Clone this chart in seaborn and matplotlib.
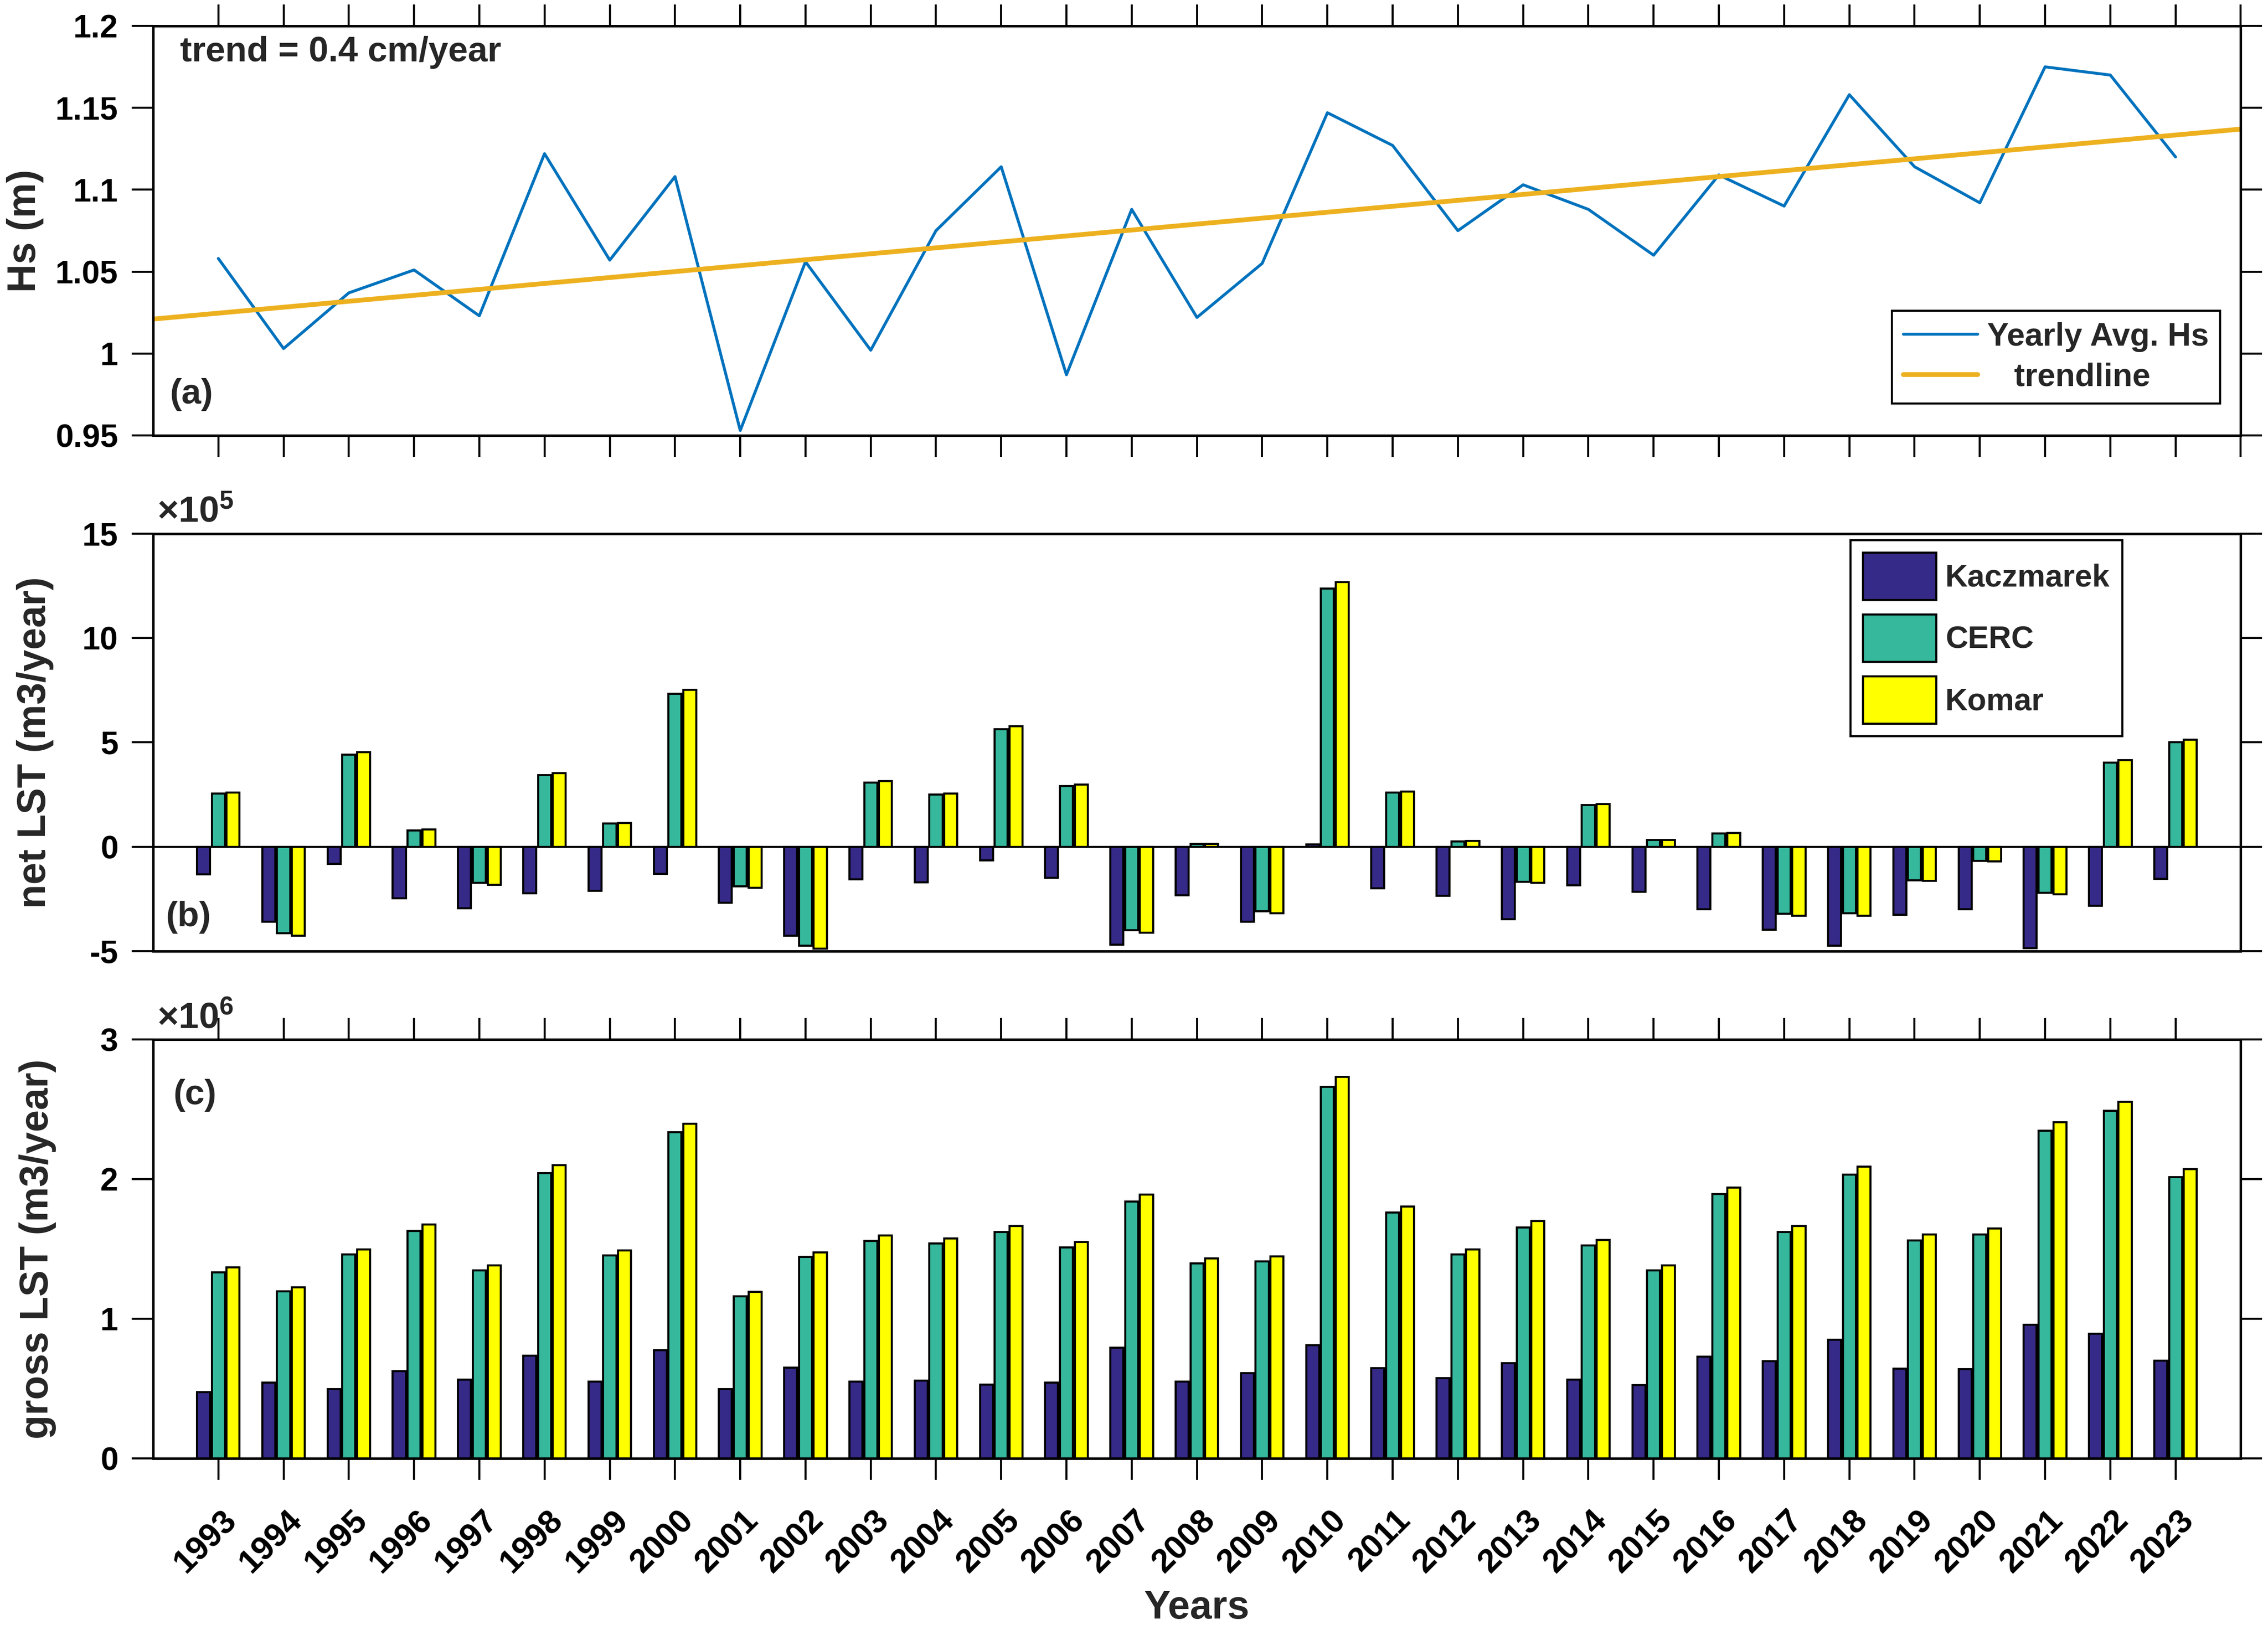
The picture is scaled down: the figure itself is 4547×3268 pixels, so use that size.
import numpy as np
import pandas as pd
import matplotlib
matplotlib.use("Agg")
import matplotlib.pyplot as plt
import matplotlib.transforms as mtransforms
import seaborn as sns

# ---- data ----
years = list(range(1993, 2024))
hs_yearly = [1.058, 1.003, 1.037, 1.051, 1.023, 1.122, 1.057, 1.108, 0.953, 1.056,
             1.002, 1.075, 1.114, 0.987, 1.088, 1.022, 1.055, 1.147, 1.127, 1.075,
             1.103, 1.088, 1.060, 1.109, 1.090, 1.158, 1.114, 1.092, 1.175, 1.170, 1.120]
trend_years = [1992, 2024]
trend_hs = [1.021, 1.137]

methods = ["Kaczmarek", "CERC", "Komar"]
# net LST, x10^5 m3/year
net_kaczmarek = [-1.33, -3.60, -0.82, -2.48, -2.95, -2.22, -2.10, -1.29, -2.68, -4.27, -1.55,
                 -1.71, -0.66, -1.48, -4.70, -2.33, -3.59, 0.11, -2.00, -2.36, -3.47, -1.85,
                 -2.16, -3.00, -3.97, -4.75, -3.27, -3.00, -4.86, -2.82, -1.53]
net_cerc = [2.55, -4.15, 4.41, 0.79, -1.74, 3.44, 1.11, 7.33, -1.89, -4.75, 3.08,
            2.49, 5.62, 2.90, -4.00, 0.14, -3.10, 12.36, 2.59, 0.26, -1.68, 1.99,
            0.32, 0.63, -3.21, -3.19, -1.60, -0.67, -2.21, 4.03, 5.00]
net_komar = [2.60, -4.27, 4.52, 0.82, -1.82, 3.53, 1.14, 7.53, -1.96, -4.89, 3.15,
             2.56, 5.77, 2.97, -4.12, 0.14, -3.19, 12.67, 2.64, 0.29, -1.74, 2.04,
             0.32, 0.67, -3.30, -3.30, -1.64, -0.71, -2.29, 4.14, 5.12]
# gross LST, x10^6 m3/year
gross_kaczmarek = [0.476, 0.544, 0.495, 0.626, 0.565, 0.735, 0.548, 0.774, 0.495, 0.651, 0.550,
                   0.556, 0.530, 0.542, 0.791, 0.548, 0.612, 0.811, 0.647, 0.573, 0.682, 0.563,
                   0.526, 0.729, 0.696, 0.850, 0.641, 0.639, 0.957, 0.893, 0.700]
gross_cerc = [1.333, 1.195, 1.460, 1.630, 1.347, 2.041, 1.452, 2.337, 1.160, 1.441, 1.556,
              1.538, 1.620, 1.511, 1.838, 1.396, 1.411, 2.659, 1.762, 1.460, 1.655, 1.524,
              1.347, 1.891, 1.622, 2.033, 1.561, 1.604, 2.347, 2.489, 2.014]
gross_komar = [1.368, 1.226, 1.497, 1.674, 1.382, 2.099, 1.489, 2.396, 1.191, 1.476, 1.595,
               1.575, 1.663, 1.550, 1.889, 1.433, 1.446, 2.731, 1.805, 1.497, 1.700, 1.563,
               1.382, 1.938, 1.665, 2.088, 1.602, 1.645, 2.407, 2.554, 2.070]

hs_ticks = [0.95, 1, 1.05, 1.1, 1.15, 1.2]
hs_ticklabels = ["0.95", "1", "1.05", "1.1", "1.15", "1.2"]
net_ticks = [-5, 0, 5, 10, 15]
gross_ticks = [0, 1, 2, 3]

bar_colors = ["#352A87", "#36B89D", "#FFFF00"]

sns.set_style("ticks")
plt.rcParams["font.family"] = ["Liberation Sans", "DejaVu Sans"]
plt.rcParams["font.weight"] = "bold"
plt.rcParams["axes.labelweight"] = "bold"
plt.rcParams["axes.unicode_minus"] = False
plt.rcParams["axes.edgecolor"] = "black"
plt.rcParams["xtick.color"] = "black"
plt.rcParams["ytick.color"] = "black"
plt.rcParams["mathtext.fontset"] = "custom"
plt.rcParams["mathtext.rm"] = "Liberation Sans"
plt.rcParams["mathtext.bf"] = "Liberation Sans:bold"

fig = plt.figure(figsize=(4547 / 300, 3268 / 300), dpi=300)
L, R = 0.0675, 0.988
ax_a = fig.add_axes([L, 0.7329, R - L, 0.9841 - 0.7329])
ax_b = fig.add_axes([L, 0.4165, R - L, 0.6726 - 0.4165])
ax_c = fig.add_axes([L, 0.1053, R - L, 0.3623 - 0.1053])

TICK = 15.5
LAB = 19
for ax in (ax_a, ax_b, ax_c):
    for s in ax.spines.values():
        s.set_linewidth(1.2)
    ax.tick_params(direction="out", length=10.3, width=1, labelsize=TICK, pad=6.5,
                   right=True, top=True)

# ---- (a) wave height ----
sns.lineplot(x=years, y=hs_yearly, color="#0072BD", lw=1.4, label="Yearly Avg. Hs", ax=ax_a)
sns.lineplot(x=trend_years, y=trend_hs, color="#EDB120", lw=2.3, label="   trendline", ax=ax_a)
ax_a.set_xlim(1992, 2024)
ax_a.set_ylim(0.95, 1.2)
ax_a.set_xticks(range(1993, 2025))
ax_a.tick_params(axis="x", labelbottom=False)
ax_a.set_yticks(hs_ticks)
ax_a.set_yticklabels(hs_ticklabels)
ax_a.set_ylabel("Hs (m)", fontsize=LAB, va="center")
ax_a.yaxis.set_label_coords(-0.0612, 0.5)
leg = ax_a.legend(loc="upper left", bbox_to_anchor=(0.833, 0.3045), borderaxespad=0,
                  fontsize=15.5, handlelength=2.3, handletextpad=0.3, labelspacing=0.33,
                  borderpad=0.35, fancybox=False, edgecolor="black", framealpha=1)
leg.get_frame().set_linewidth(1)
ax_a.text(0.013, 0.935, "trend = 0.4 cm/year", transform=ax_a.transAxes, fontsize=17,
          ha="left", va="center")
ax_a.text(0.008, 0.10, "(a)", transform=ax_a.transAxes, fontsize=17, ha="left", va="center")

# ---- (b) net LST ----
year_labels = [str(y) for y in years]
net_df = pd.DataFrame({
    "Year": year_labels * 3,
    "Method": np.repeat(methods, len(years)),
    "Value": net_kaczmarek + net_cerc + net_komar,
})
ax_b.axhline(0, color="black", lw=1, zorder=0)
sns.barplot(data=net_df, x="Year", y="Value", hue="Method", hue_order=methods,
            palette=bar_colors, width=0.68, gap=0.12, edgecolor="black", linewidth=1,
            saturation=1, errorbar=None, ax=ax_b)
ax_b.set_xlim(-1, len(years))
ax_b.set_ylim(-5, 15)
ax_b.set_yticks(net_ticks)
ax_b.tick_params(axis="x", bottom=False, top=False, labelbottom=False)
ax_b.set_xlabel("")
ax_b.set_ylabel("net LST (m3/year)", fontsize=LAB, va="center")
ax_b.yaxis.set_label_coords(-0.0566, 0.5)
ax_b.text(0.002, 1.01, r"$\times\mathbf{10^{5}}$", transform=ax_b.transAxes, fontsize=17.5,
          ha="left", va="bottom")
ax_b.text(0.006, 0.081, "(b)", transform=ax_b.transAxes, fontsize=17, ha="left", va="center")
handles, labels = ax_b.get_legend_handles_labels()
leg = ax_b.legend(handles, labels, loc="upper left", bbox_to_anchor=(0.813, 0.984),
                  borderaxespad=0, fontsize=15, handlelength=2.35, handleheight=1.95,
                  handletextpad=0.3, labelspacing=0.47, borderpad=0.4, fancybox=False,
                  edgecolor="black", framealpha=1)
leg.get_frame().set_linewidth(1)

# ---- (c) gross LST ----
gross_df = pd.DataFrame({
    "Year": year_labels * 3,
    "Method": np.repeat(methods, len(years)),
    "Value": gross_kaczmarek + gross_cerc + gross_komar,
})
sns.barplot(data=gross_df, x="Year", y="Value", hue="Method", hue_order=methods,
            palette=bar_colors, width=0.68, gap=0.12, edgecolor="black", linewidth=1,
            saturation=1, errorbar=None, legend=False, ax=ax_c)
ax_c.set_xlim(-1, len(years))
ax_c.set_ylim(0, 3)
ax_c.set_yticks(gross_ticks)
ax_c.set_xticks(range(len(years)))
ax_c.set_xticklabels(year_labels, rotation=45, ha="center", fontsize=16)
ax_c.tick_params(axis="x", pad=12)
shift = mtransforms.ScaledTranslation(-6 / 72, 0, fig.dpi_scale_trans)
for lab in ax_c.get_xticklabels():
    lab.set_transform(lab.get_transform() + shift)
ax_c.set_xlabel("Years", fontsize=LAB, va="center")
ax_c.xaxis.set_label_coords(0.5, -0.358)
ax_c.set_ylabel("gross LST (m3/year)", fontsize=LAB, va="center")
ax_c.yaxis.set_label_coords(-0.0553, 0.5)
ax_c.text(0.002, 1.01, r"$\times\mathbf{10^{6}}$", transform=ax_c.transAxes, fontsize=17.5,
          ha="left", va="bottom")
ax_c.text(0.0098, 0.867, "(c)", transform=ax_c.transAxes, fontsize=17, ha="left", va="center")

fig.savefig("out.png", dpi=300)
